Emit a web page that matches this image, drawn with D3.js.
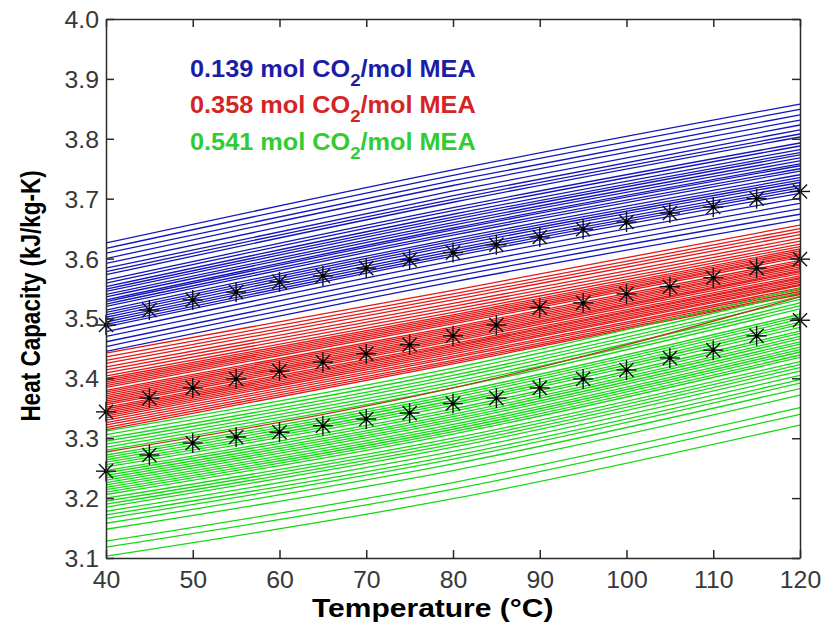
<!DOCTYPE html>
<html>
<head>
<meta charset="utf-8">
<script src="https://cdn.jsdelivr.net/npm/d3@7"></script>
<style>
  html, body { margin: 0; padding: 0; background: #fff; }
  svg { display: block; }
</style>
</head>
<body>
<svg id="chart" width="836" height="631"></svg>
<script>
// Heat capacity of loaded MEA solutions, 40–120 °C.
// Each model run is stored as its value at 40, 80 and 120 °C.
const lineTemps = [40, 80, 120];

// 0.139 mol CO2/mol MEA model runs
const runsLow = [
  [3.626, 3.748, 3.858], [3.617, 3.739, 3.849], [3.609, 3.730, 3.840], [3.600, 3.722, 3.831],
  [3.592, 3.713, 3.823], [3.584, 3.705, 3.815], [3.578, 3.699, 3.808], [3.573, 3.694, 3.803],
  [3.564, 3.685, 3.793], [3.559, 3.680, 3.788], [3.553, 3.674, 3.782], [3.549, 3.669, 3.777],
  [3.545, 3.665, 3.773], [3.540, 3.660, 3.768], [3.536, 3.656, 3.763], [3.531, 3.651, 3.758],
  [3.528, 3.648, 3.755], [3.524, 3.643, 3.750], [3.520, 3.639, 3.746], [3.514, 3.633, 3.740],
  [3.510, 3.629, 3.735], [3.506, 3.625, 3.731], [3.502, 3.621, 3.727], [3.498, 3.616, 3.722],
  [3.494, 3.612, 3.718], [3.490, 3.608, 3.714], [3.486, 3.604, 3.709], [3.478, 3.596, 3.701],
  [3.470, 3.587, 3.692], [3.461, 3.578, 3.683], [3.453, 3.570, 3.674], [3.445, 3.561, 3.665]
];

// 0.358 mol CO2/mol MEA model runs
const runsMid = [
  [3.442, 3.547, 3.656], [3.436, 3.541, 3.650], [3.430, 3.536, 3.645], [3.425, 3.531, 3.640],
  [3.419, 3.525, 3.634], [3.414, 3.520, 3.629], [3.409, 3.515, 3.624], [3.404, 3.510, 3.620],
  [3.400, 3.506, 3.616], [3.397, 3.503, 3.613], [3.394, 3.500, 3.610], [3.391, 3.497, 3.607],
  [3.388, 3.494, 3.605], [3.385, 3.491, 3.602], [3.380, 3.486, 3.597], [3.377, 3.483, 3.594],
  [3.374, 3.480, 3.591], [3.371, 3.477, 3.589], [3.368, 3.474, 3.586], [3.365, 3.471, 3.583],
  [3.362, 3.468, 3.580], [3.359, 3.465, 3.578], [3.356, 3.462, 3.575], [3.352, 3.458, 3.571],
  [3.349, 3.455, 3.568], [3.346, 3.453, 3.566], [3.343, 3.450, 3.563], [3.340, 3.447, 3.560],
  [3.337, 3.444, 3.557], [3.334, 3.441, 3.555], [3.330, 3.437, 3.551], [3.326, 3.434, 3.548],
  [3.322, 3.430, 3.545], [3.318, 3.427, 3.542], [3.314, 3.424, 3.540]
];
// one 0.358 run that falls inside the 0.541 set
const runMidLow = [3.277, 3.384, 3.536];

// 0.541 mol CO2/mol MEA model runs
const runsHigh = [
  [3.312, 3.417, 3.550], [3.306, 3.411, 3.543], [3.300, 3.405, 3.537], [3.295, 3.400, 3.532],
  [3.290, 3.394, 3.526], [3.285, 3.389, 3.521], [3.280, 3.384, 3.516], [3.272, 3.376, 3.507],
  [3.268, 3.372, 3.503], [3.264, 3.368, 3.499], [3.260, 3.363, 3.494], [3.256, 3.359, 3.490],
  [3.252, 3.355, 3.485], [3.246, 3.349, 3.479], [3.242, 3.345, 3.475], [3.238, 3.340, 3.470],
  [3.234, 3.336, 3.466], [3.230, 3.332, 3.461], [3.226, 3.328, 3.457], [3.222, 3.323, 3.452],
  [3.218, 3.319, 3.448], [3.214, 3.315, 3.444], [3.210, 3.311, 3.439], [3.206, 3.307, 3.435],
  [3.200, 3.300, 3.428], [3.195, 3.295, 3.423], [3.190, 3.290, 3.418], [3.185, 3.285, 3.412],
  [3.178, 3.278, 3.405], [3.172, 3.271, 3.398], [3.166, 3.265, 3.392], [3.158, 3.257, 3.383],
  [3.148, 3.246, 3.372], [3.128, 3.226, 3.351], [3.118, 3.215, 3.340], [3.103, 3.199, 3.322]
];

// Measured points (asterisks)
const measTemps = [40, 45, 50, 55, 60, 65, 70, 75, 80, 85, 90, 95, 100, 105, 110, 115, 120];
const measLow  = [3.489, 3.514, 3.531, 3.544, 3.561, 3.571, 3.584, 3.598, 3.610, 3.623, 3.636, 3.649, 3.661, 3.676, 3.686, 3.700, 3.712];
const measMid  = [3.344, 3.367, 3.384, 3.399, 3.412, 3.427, 3.441, 3.456, 3.471, 3.489, 3.518, 3.526, 3.541, 3.553, 3.568, 3.584, 3.599];
const measHigh = [3.245, 3.272, 3.292, 3.302, 3.310, 3.321, 3.332, 3.342, 3.358, 3.367, 3.384, 3.399, 3.414, 3.434, 3.447, 3.471, 3.497];

const xTicks = [40, 50, 60, 70, 80, 90, 100, 110, 120];
const yTicks = [3.1, 3.2, 3.3, 3.4, 3.5, 3.6, 3.7, 3.8, 3.9, 4.0];
const legendLoadings = ["0.139", "0.358", "0.541"];

const plot = { left: 106, right: 800, top: 19, bottom: 558 };
const svg = d3.select("#chart");
svg.append("rect").attr("width", 836).attr("height", 631).attr("fill", "#fff");

const x = d3.scaleLinear().domain([40, 120]).range([plot.left, plot.right]);
const y = d3.scaleLinear().domain([3.1, 4.0]).range([plot.bottom, plot.top]);

svg.append("clipPath").attr("id", "plotClip")
  .append("rect")
  .attr("x", plot.left).attr("y", plot.top)
  .attr("width", plot.right - plot.left).attr("height", plot.bottom - plot.top);

const line = d3.line()
  .x((d, i) => x(lineTemps[i]))
  .y(d => y(d))
  .curve(d3.curveNatural);

const lineLayer = svg.append("g").attr("clip-path", "url(#plotClip)")
  .attr("fill", "none").attr("stroke-width", 1.3);

function drawRuns(runs, color) {
  lineLayer.append("g").attr("stroke", color)
    .selectAll("path").data(runs).join("path")
    .attr("d", line);
}
drawRuns(runsLow, "#1414bc");
drawRuns(runsMid, "#e41616");
drawRuns(runsHigh, "#16d816");
lineLayer.append("path").datum(runMidLow)
  .attr("stroke", "#b0401c").attr("d", line);

// Asterisk markers
const starArms = [0, 45, 90, 135];
function drawStars(values) {
  const pts = measTemps.map((t, i) => [x(t), y(values[i])]);
  const g = svg.append("g").attr("stroke", "#111").attr("stroke-width", 1.4);
  const star = g.selectAll("g").data(pts).join("g")
    .attr("transform", d => `translate(${d[0]},${d[1]})`);
  starArms.forEach(a => {
    const r = 10, rad = a * Math.PI / 180;
    star.append("line")
      .attr("x1", -r * Math.cos(rad)).attr("y1", -r * Math.sin(rad))
      .attr("x2", r * Math.cos(rad)).attr("y2", r * Math.sin(rad));
  });
  star.append("circle").attr("r", 2).attr("fill", "#000").attr("stroke", "none");
}
drawStars(measLow);
drawStars(measMid);
drawStars(measHigh);

// Axes: boxed, ticks pointing inward on all four sides
const axisColor = "#2a2a2a";
const tickFont = "'Liberation Sans', Arial, sans-serif";
const tickScale = 1.08;

const gx = svg.append("g").attr("transform", `translate(0,${plot.bottom})`)
  .call(d3.axisBottom(x).tickValues(xTicks).tickSizeInner(-8).tickSizeOuter(0).tickFormat(d3.format("d")));
gx.selectAll("text").attr("y", 0).attr("dy", 0)
  .attr("transform", `translate(0,30) scale(${tickScale},1)`);

const gy = svg.append("g").attr("transform", `translate(${plot.left},0)`)
  .call(d3.axisLeft(y).tickValues(yTicks).tickSizeInner(-8).tickSizeOuter(0).tickFormat(d3.format(".1f")));
gy.selectAll("text").attr("x", 0).attr("dy", 0)
  .attr("transform", `translate(-7,8.5) scale(${tickScale},1)`);

svg.append("g").attr("transform", `translate(0,${plot.top})`)
  .call(d3.axisTop(x).tickValues(xTicks).tickSizeInner(-8).tickSizeOuter(0).tickFormat(""));
svg.append("g").attr("transform", `translate(${plot.right},0)`)
  .call(d3.axisRight(y).tickValues(yTicks).tickSizeInner(-8).tickSizeOuter(0).tickFormat(""));

svg.selectAll(".domain, .tick line").attr("stroke", axisColor).attr("stroke-width", 1.5);
svg.selectAll(".tick text")
  .attr("fill", "#383838").attr("font-family", tickFont).attr("font-size", 23);

// Axis titles
const titleFont = "'Liberation Sans', Arial, sans-serif";
svg.append("text")
  .attr("transform", `translate(312,617) scale(1.2,1)`)
  .attr("font-family", titleFont).attr("font-weight", "bold").attr("font-size", 25)
  .attr("fill", "#000")
  .text("Temperature (°C)");

svg.append("text")
  .attr("transform", `translate(40,296) rotate(-90) scale(1,1.2)`)
  .attr("text-anchor", "middle")
  .attr("font-family", titleFont).attr("font-weight", "bold").attr("font-size", 22.5)
  .attr("fill", "#000")
  .text("Heat Capacity (kJ/kg-K)");

// Legend text
const legendColors = ["#1c1ca6", "#d42424", "#30cc30"];
const legendBase = [77, 113, 150];
legendLoadings.forEach((v, i) => {
  const t = svg.append("text")
    .attr("transform", `translate(190,${legendBase[i]}) scale(1.1,1)`)
    .attr("font-family", titleFont).attr("font-weight", "bold").attr("font-size", 23)
    .attr("fill", legendColors[i]);
  t.append("tspan").text(`${v} mol CO`);
  t.append("tspan").attr("font-size", 17).attr("dy", 9).text("2");
  t.append("tspan").attr("dy", -9).text("/mol MEA");
});
</script>
</body>
</html>
